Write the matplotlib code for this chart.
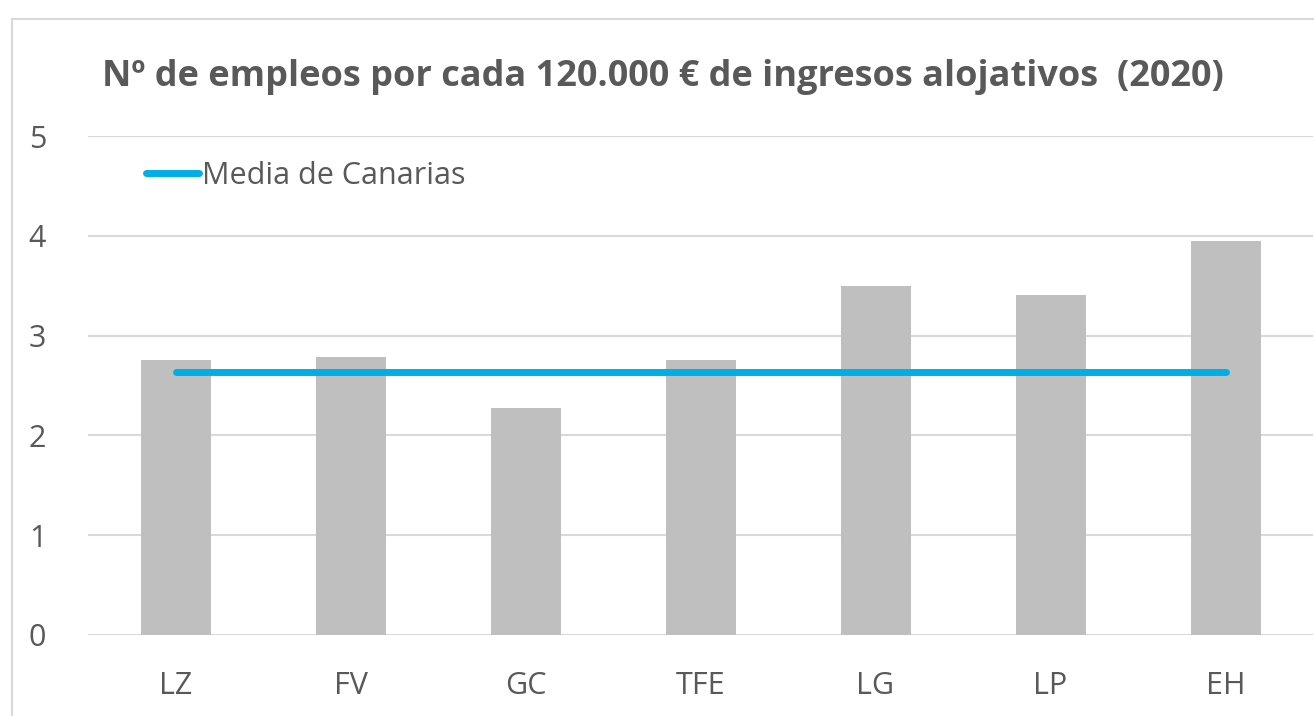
import matplotlib.pyplot as plt
from matplotlib.patches import Rectangle

# Data
islands = ['LZ', 'FV', 'GC', 'TFE', 'LG', 'LP', 'EH']
empleos = [2.76, 2.79, 2.275, 2.76, 3.50, 3.41, 3.95]
media_canarias = [2.635] * len(islands)

gray_text = '#595959'
plt.rcParams['font.family'] = ['Open Sans', 'DejaVu Sans']

fig = plt.figure(figsize=(13.14, 7.16), dpi=100)
ax = fig.add_axes([88 / 1314, 1 - 635 / 716, 1225 / 1314, 499 / 716])

# light frame around the chart (cropped on right / bottom in original)
fig.patches.append(Rectangle((12 / 1314, -0.05), 1.1, 1 - 19 / 716 + 0.05,
                             transform=fig.transFigure, fill=False,
                             edgecolor='#d9d9d9', linewidth=1.5))

x = range(len(islands))
ax.bar(x, empleos, width=0.4, color='#bfbfbf', zorder=2)
ax.plot(x, media_canarias, color='#00aee6', linewidth=5,
        solid_capstyle='round', label='Media de Canarias', zorder=3)

ax.set_xlim(-0.5, len(islands) - 0.5)
ax.set_ylim(0, 5)
ax.set_yticks(range(6))
ax.set_xticks(list(x))
ax.set_xticklabels(islands)
ax.yaxis.grid(True, color='#d9d9d9', linewidth=1.5, zorder=0)
ax.set_axisbelow(True)
for s in ax.spines.values():
    s.set_visible(False)
ax.tick_params(axis='both', length=0, labelsize=22, colors=gray_text)
ax.tick_params(axis='y', pad=30)
ax.tick_params(axis='x', pad=26)

leg = ax.legend(loc='center left', bbox_to_anchor=(0.047, 0.92), frameon=False,
                fontsize=22, handlelength=1.75, handletextpad=0.1,
                borderaxespad=0, borderpad=0)
for t in leg.get_texts():
    t.set_color(gray_text)

fig.text(663 / 1314, 1 - 77 / 716, 'Nº de empleos por cada 120.000 € de ingresos alojativos  (2020)',
         ha='center', va='center', fontsize=26, fontweight='bold', color=gray_text)

fig.savefig('out.png', dpi=100, facecolor='white')
